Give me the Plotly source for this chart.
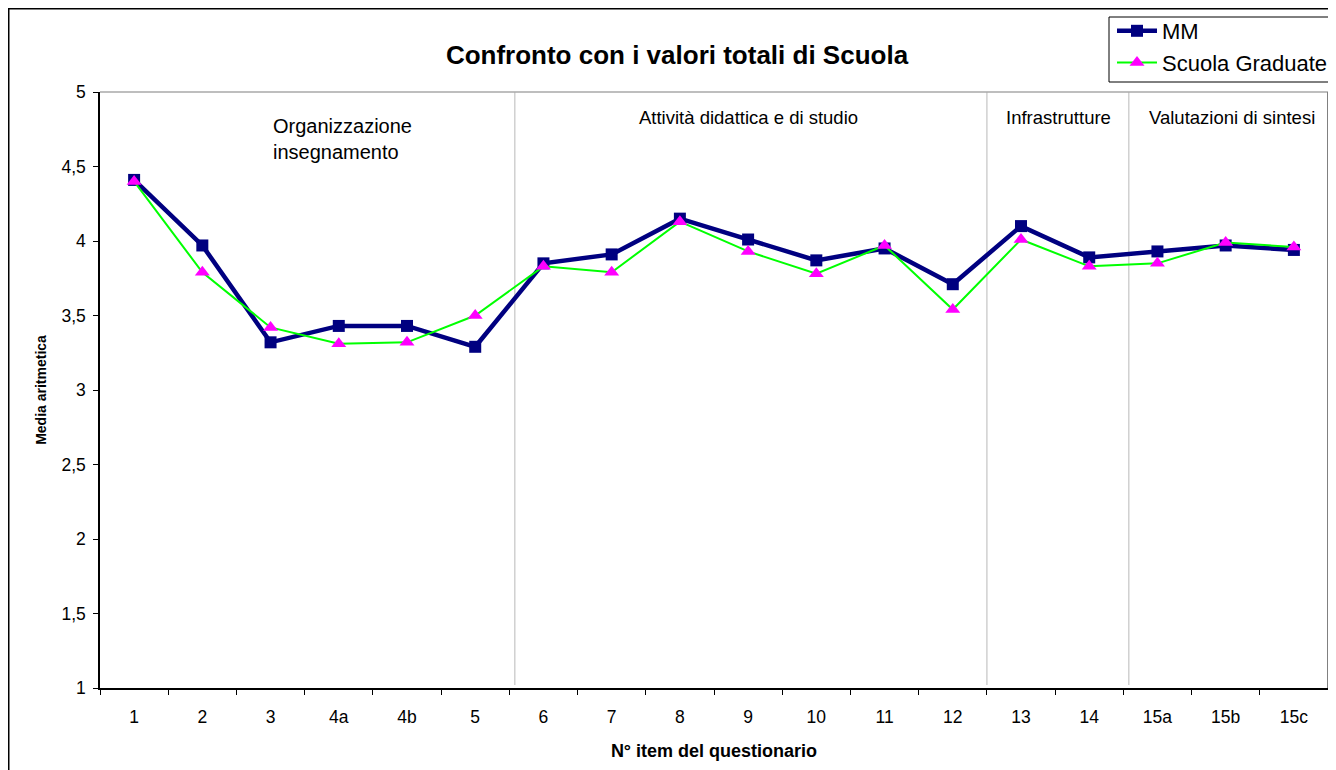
import plotly.graph_objects as go

categories = ["1", "2", "3", "4a", "4b", "5", "6", "7", "8", "9", "10", "11", "12", "13", "14", "15a", "15b", "15c"]
mm_values = [4.41, 3.97, 3.32, 3.43, 3.43, 3.29, 3.85, 3.91, 4.15, 4.01, 3.87, 3.95, 3.71, 4.10, 3.89, 3.93, 3.97, 3.94]
sg_values = [4.40, 3.79, 3.42, 3.31, 3.32, 3.50, 3.83, 3.79, 4.13, 3.93, 3.78, 3.97, 3.54, 4.01, 3.83, 3.85, 3.99, 3.96]
y_ticks = [1, 1.5, 2, 2.5, 3, 3.5, 4, 4.5, 5]
section_labels = ["Organizzazione<br>insegnamento", "Attività didattica e di studio", "Infrastrutture", "Valutazioni di sintesi"]
section_label_x = [3.05, 9.0, 13.55, 16.1]
section_label_y = [4.685, 4.83, 4.83, 4.83]
separator_x = [5.58, 12.5, 14.58]

FONT = "Arial, Liberation Sans, sans-serif"
W, H = 1328, 762
L, R, T, B = 92, 8, 84, 82
PW, PH = W - L - R, H - T - B


def px(fx):
    return (fx - L) / PW


def py(fy):
    return 1 + (T - fy) / PH


fig = go.Figure()
fig.add_trace(go.Scatter(
    x=categories, y=mm_values, name="MM", mode="lines+markers",
    line=dict(color="#000080", width=4.5),
    marker=dict(symbol="square", size=12, color="#000080"),
))
fig.add_trace(go.Scatter(
    x=categories, y=sg_values, name="Scuola Graduate", mode="lines+markers",
    line=dict(color="#00FF00", width=2),
    marker=dict(symbol="triangle-up", size=13, color="#FF00FF"),
))

shapes = []
for sx in separator_x:
    shapes.append(dict(type="line", xref="x", yref="y", x0=sx, x1=sx, y0=1.02, y1=5,
                       line=dict(color="#d0d0d0", width=1.5), layer="below"))
# plot area top / right border
shapes.append(dict(type="line", xref="paper", yref="paper", x0=0, x1=1, y0=1, y1=1,
                   line=dict(color="#a8a8a8", width=1.5)))
shapes.append(dict(type="line", xref="paper", yref="paper", x0=1, x1=1, y0=0, y1=1,
                   line=dict(color="#808080", width=2)))
# outer chart frame
shapes.append(dict(type="rect", xref="paper", yref="paper", x0=px(0.75), x1=px(W + 20), y0=py(H + 20), y1=py(0.75),
                   line=dict(color="black", width=1.5), fillcolor="rgba(0,0,0,0)"))
# legend box
shapes.append(dict(type="rect", xref="paper", yref="paper", x0=px(1101), x1=px(W + 10), y0=py(74), y1=py(9),
                   line=dict(color="black", width=1), fillcolor="white"))

annotations = []
for txt, ax, ay in zip(section_labels, section_label_x, section_label_y):
    annotations.append(dict(text=txt, x=ax, y=ay, xref="x", yref="y", showarrow=False,
                            font=dict(family=FONT, size=20 if "<br>" in txt else 18.5, color="black"),
                            align="left", xanchor="center", yanchor="middle"))

fig.update_layout(
    width=W, height=H,
    margin=dict(l=L, r=R, t=T, b=B, autoexpand=False),
    paper_bgcolor="white", plot_bgcolor="white",
    separators=", ",
    font=dict(family=FONT, size=17, color="black"),
    title=dict(text="<b>Confronto con i valori totali di Scuola</b>",
               x=669 / W, xref="container", xanchor="center",
               y=1 - 47 / H, yref="container", yanchor="middle",
               font=dict(family=FONT, size=26, color="black")),
    showlegend=True,
    legend=dict(x=1104 / W, y=1 - 2 / H, xref="container", yref="container",
                xanchor="left", yanchor="top",
                borderwidth=0, bgcolor="rgba(0,0,0,0)",
                font=dict(family=FONT, size=22, color="black"),
                tracegroupgap=0, itemwidth=40),
    shapes=shapes,
    annotations=annotations,
)
fig.update_xaxes(
    type="category", categoryorder="array", categoryarray=categories,
    range=[-0.5, len(categories) - 0.5],
    showline=True, linecolor="black", linewidth=1.5,
    ticks="outside", tickson="boundaries", ticklen=5, tickcolor="black",
    showgrid=False, zeroline=False, automargin=False,
    tickfont=dict(family=FONT, size=17.5), ticklabelstandoff=12,
    title=dict(text="<b>N° item del questionario</b>", font=dict(family=FONT, size=18), standoff=19),
)
fig.update_yaxes(
    range=[1, 5], tickvals=y_ticks,
    showline=True, linecolor="black", linewidth=1.5,
    ticks="outside", ticklen=5, tickcolor="black",
    showgrid=False, zeroline=False, automargin=False,
    tickfont=dict(family=FONT, size=17.5), ticklabelstandoff=4,
    title=dict(text="<b>Media aritmetica</b>", font=dict(family=FONT, size=14), standoff=12),
)

fig.write_html("out.html")
